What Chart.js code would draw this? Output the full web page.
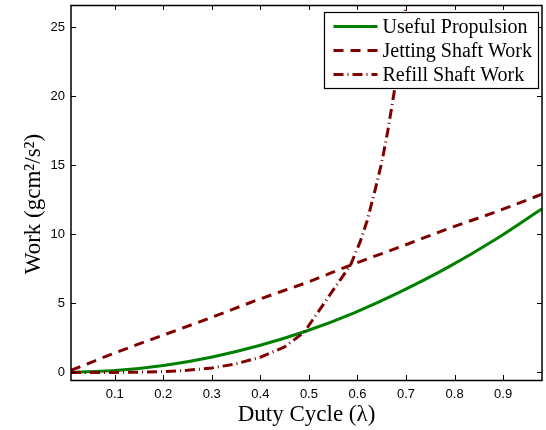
<!DOCTYPE html>
<html>
<head>
<meta charset="utf-8">
<script src="https://cdn.jsdelivr.net/npm/chart.js@4.4.1/dist/chart.umd.min.js"></script>
<style>
  html, body { margin: 0; padding: 0; background: #fff; }
</style>
</head>
<body>
<canvas id="workChart" width="546" height="430"></canvas>
<script>
// duty cycle grid used by the propulsion and jetting curves
var dutyCycle = [0.01, 0.107, 0.204, 0.301, 0.398, 0.495, 0.592, 0.689, 0.786, 0.883, 0.98];
var usefulPropulsion = [0.0, 0.15, 0.52, 1.12, 1.95, 3.0, 4.3, 5.85, 7.6, 9.6, 11.85];
var jettingShaftWork = [0.15, 1.5, 2.75, 4.0, 5.3, 6.5, 7.85, 9.1, 10.4, 11.6, 12.9];

// refill curve read at its own points (it leaves the top of the plot near 0.7)
var refillCycle = [0.01, 0.1, 0.15, 0.2, 0.25, 0.3, 0.35, 0.4, 0.45, 0.49, 0.586, 0.606, 0.62, 0.637, 0.65, 0.662, 0.677, 0.69, 0.70, 0.71];
var refillShaftWork = [0.0, 0.0, 0.02, 0.06, 0.15, 0.32, 0.62, 1.1, 1.85, 2.9, 7.8, 9.5, 11.0, 13.3, 15.2, 17.4, 20.6, 23.6, 26.6, 29.5];

var xTickValues = [0.1, 0.2, 0.3, 0.4, 0.5, 0.6, 0.7, 0.8, 0.9];
var yTickValues = [0, 5, 10, 15, 20, 25];

function toPoints(xs, ys) {
  return xs.map(function (x, i) { return { x: x, y: ys[i] }; });
}

// box round the plot, inward tick marks on all four sides, and the legend
var matlabFrame = {
  id: 'matlabFrame',
  afterDatasetsDraw: function (chart) {
    var ctx = chart.ctx;
    var a = chart.chartArea;
    var xs = chart.scales.x, ys = chart.scales.y;
    var len = 5;
    ctx.save();
    ctx.strokeStyle = '#000';
    ctx.lineWidth = 1;
    ctx.beginPath();
    xTickValues.forEach(function (v) {
      var px = Math.round(xs.getPixelForValue(v)) + 0.5;
      ctx.moveTo(px, a.bottom); ctx.lineTo(px, a.bottom - len);
      ctx.moveTo(px, a.top); ctx.lineTo(px, a.top + len);
    });
    yTickValues.forEach(function (v) {
      var py = Math.round(ys.getPixelForValue(v)) + 0.5;
      ctx.moveTo(a.left, py); ctx.lineTo(a.left + len, py);
      ctx.moveTo(a.right, py); ctx.lineTo(a.right - len, py);
    });
    ctx.stroke();
    ctx.lineWidth = 1.5;
    ctx.strokeRect(Math.round(a.left), Math.round(a.top) + 0.5, Math.round(a.right - a.left), Math.round(a.bottom - a.top));

    // legend
    var bw = 214, bh = 76;
    var bx = Math.round(a.right - 4 - bw) + 0.5;
    var by = Math.round(a.top + 7) + 0.5;
    ctx.fillStyle = '#fff';
    ctx.fillRect(bx, by, bw, bh);
    ctx.lineWidth = 1.2;
    ctx.strokeStyle = '#000';
    ctx.strokeRect(bx, by, bw, bh);
    ctx.font = '20px "Liberation Serif", "Times New Roman", serif';
    ctx.textBaseline = 'middle';
    ctx.textAlign = 'left';
    chart.data.datasets.forEach(function (ds, i) {
      var ry = by + 14 + i * 24;
      ctx.save();
      ctx.strokeStyle = ds.borderColor;
      ctx.lineWidth = ds.borderWidth;
      ctx.setLineDash(ds.borderDash || []);
      ctx.beginPath();
      ctx.moveTo(bx + 9, ry);
      ctx.lineTo(bx + 53, ry);
      ctx.stroke();
      ctx.restore();
      ctx.fillStyle = '#000';
      ctx.fillText(ds.label, bx + 58, ry + 1);
    });
    ctx.restore();
  }
};

var ctx = document.getElementById('workChart').getContext('2d');

var myChart = new Chart(ctx, {
  type: 'line',
  data: {
    datasets: [{
        label: 'Useful Propulsion',
        data: toPoints(dutyCycle, usefulPropulsion),
        borderColor: '#008000',
        borderWidth: 3,
        pointRadius: 0,
        fill: false,
        cubicInterpolationMode: 'monotone',
        order: 2
      },
      {
        label: 'Jetting Shaft Work',
        data: toPoints(dutyCycle, jettingShaftWork),
        borderColor: '#800000',
        borderWidth: 3,
        borderDash: [10, 7],
        pointRadius: 0,
        fill: false,
        cubicInterpolationMode: 'monotone',
        order: 1
      },
      {
        label: 'Refill Shaft Work',
        data: toPoints(refillCycle, refillShaftWork),
        borderColor: '#800000',
        borderWidth: 3,
        borderDash: [10, 4, 1, 4],
        pointRadius: 0,
        fill: false,
        tension: 0,
        clip: 0,
        order: 0
      }
    ]
  },
  plugins: [matlabFrame],
  options: {
    responsive: false,
    animation: false,
    layout: {
      padding: { top: 5, right: 4, left: 0, bottom: 0 }
    },
    plugins: {
      legend: { display: false },
      tooltip: { enabled: false }
    },
    scales: {
      x: {
        type: 'linear',
        min: 0.01,
        max: 0.98,
        afterBuildTicks: function (scale) {
          scale.ticks = xTickValues.map(function (v) { return { value: v }; });
        },
        afterFit: function (scale) {
          scale.height = 50;
          scale.paddingLeft = 0;
          scale.paddingRight = 0;
        },
        grid: { display: false, drawTicks: false },
        border: { display: false },
        ticks: {
          color: '#000',
          padding: 7,
          maxRotation: 0,
          font: { family: '"Liberation Sans", Arial, sans-serif', size: 13 },
          callback: function (v) { return v.toFixed(1); }
        },
        title: {
          display: true,
          text: 'Duty Cycle (λ)',
          color: '#000',
          padding: { top: 0, bottom: 1 },
          font: { family: '"Liberation Serif", "Times New Roman", serif', size: 23 }
        }
      },
      y: {
        min: -0.55,
        max: 26.6,
        afterBuildTicks: function (scale) {
          scale.ticks = yTickValues.map(function (v) { return { value: v }; });
        },
        afterFit: function (scale) {
          scale.width = 71;
          scale.paddingTop = 0;
          scale.paddingBottom = 0;
        },
        grid: { display: false, drawTicks: false },
        border: { display: false },
        ticks: {
          color: '#000',
          padding: 6,
          font: { family: '"Liberation Sans", Arial, sans-serif', size: 13 }
        },
        title: {
          display: true,
          text: 'Work (gcm²/s²)    ',
          color: '#000',
          padding: { top: 20, bottom: 0 },
          font: { family: '"Liberation Serif", "Times New Roman", serif', size: 23 }
        }
      }
    }
  }
});
</script>
</body>
</html>
